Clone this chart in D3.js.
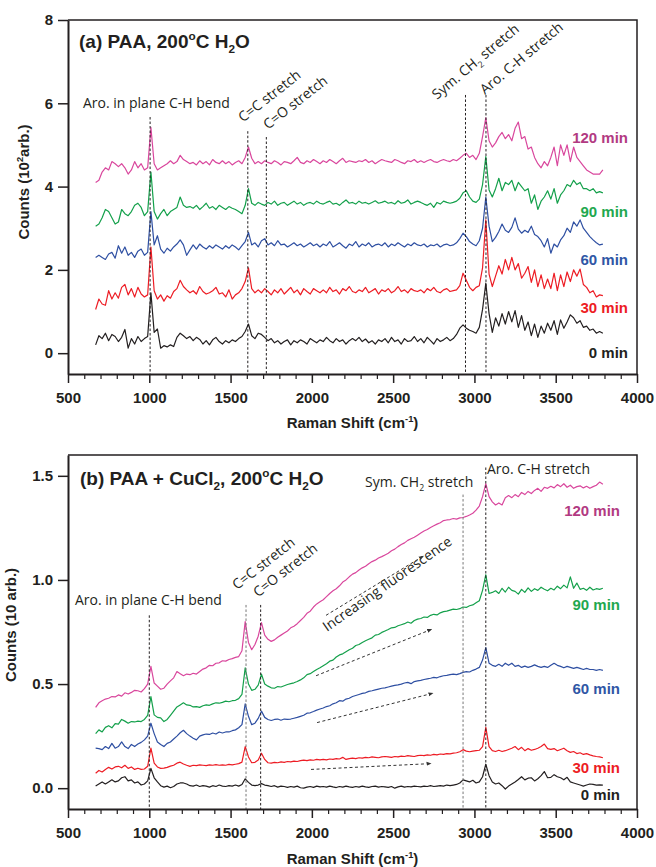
<!DOCTYPE html>
<html>
<head>
<meta charset="utf-8">
<script src="https://cdn.jsdelivr.net/npm/d3@7"></script>
<style>
  body { margin: 0; background: #fff; }
  svg { display: block; }
  .axis text { font-family: "Liberation Sans", Arial, sans-serif; font-weight: bold; font-size: 15px; fill: #231f20; }
  .axis path, .axis line { stroke: #231f20; }
  .note { font-family: "Open Sans", sans-serif; fill: #231f20; }
  .bold { font-family: "Liberation Sans", Arial, sans-serif; font-weight: bold; }
</style>
</head>
<body>
<svg id="fig" width="656" height="867"></svg>
<script>
// Raman shift sampling grid (cm-1), shared by every spectrum
var shift = d3.range(670, 3791, 20);

var timeLabels = ["0 min", "30 min", "60 min", "90 min", "120 min"];
var lineColors = ["#231f20", "#ed1c24", "#2e4fa2", "#14a04b", "#d9479d"];
var labelColors = ["#231f20", "#ed1c24", "#2f56a5", "#1fa84f", "#b23a82"];

// (a) PAA, counts in 10^2 arb. -- one row = 10 points = 200 cm-1
var paa0 = [
  0.20,0.42,0.35,0.48,0.30,0.45,0.40,0.28,0.38,0.57,
  0.12,0.35,0.22,0.40,0.28,0.35,0.40,1.45,0.50,0.58,
  0.12,0.18,0.15,0.20,0.16,0.38,0.48,0.42,0.35,0.40,
  0.30,0.38,0.33,0.22,0.30,0.20,0.32,0.38,0.28,0.22,
  0.30,0.25,0.32,0.28,0.35,0.40,0.52,0.70,0.42,0.35,
  0.48,0.45,0.38,0.30,0.35,0.25,0.30,0.22,0.28,0.32,
  0.20,0.30,0.25,0.32,0.28,0.22,0.35,0.30,0.25,0.32,
  0.28,0.38,0.30,0.25,0.35,0.28,0.32,0.22,0.30,0.35,
  0.30,0.38,0.28,0.34,0.25,0.30,0.22,0.32,0.28,0.35,
  0.25,0.38,0.28,0.32,0.22,0.35,0.28,0.30,0.40,0.28,
  0.35,0.25,0.38,0.30,0.22,0.35,0.28,0.32,0.38,0.30,
  0.35,0.45,0.60,0.68,0.60,0.55,0.52,0.48,0.62,1.05,
  1.68,0.95,0.50,0.85,0.65,0.95,0.70,1.00,0.75,1.02,
  0.62,0.90,0.55,0.75,0.42,0.70,0.38,0.65,0.48,0.72,
  0.55,0.78,0.45,0.80,0.60,0.75,0.92,0.85,0.72,0.78,
  0.62,0.65,0.55,0.58,0.48,0.52,0.48
];
var paa30 = [
  1.05,1.30,1.18,1.15,1.50,1.30,1.45,1.32,1.58,1.65,
  1.40,1.55,1.35,1.58,1.42,1.35,1.40,2.55,1.50,1.30,
  1.40,1.25,1.38,1.32,1.48,1.55,1.75,1.60,1.52,1.45,
  1.50,1.42,1.60,1.48,1.42,1.45,1.50,1.58,1.42,1.45,
  1.35,1.52,1.30,1.40,1.45,1.55,1.72,2.05,1.55,1.45,
  1.52,1.45,1.55,1.48,1.40,1.52,1.45,1.55,1.42,1.50,
  1.58,1.45,1.52,1.40,1.55,1.48,1.42,1.55,1.50,1.45,
  1.52,1.45,1.58,1.48,1.52,1.42,1.55,1.50,1.60,1.48,
  1.45,1.52,1.48,1.58,1.45,1.50,1.55,1.42,1.52,1.48,
  1.55,1.45,1.50,1.60,1.48,1.52,1.45,1.55,1.50,1.48,
  1.52,1.45,1.55,1.50,1.58,1.48,1.45,1.52,1.55,1.48,
  1.50,1.52,1.62,1.92,1.75,1.58,1.50,1.58,1.62,2.05,
  3.20,1.90,1.60,1.85,2.10,1.90,2.25,2.00,2.30,2.00,
  2.15,1.80,1.92,2.08,1.70,2.00,1.60,1.88,1.55,1.78,
  1.55,1.92,1.50,1.88,1.60,1.95,1.72,2.00,1.85,2.02,
  1.65,1.58,1.45,1.50,1.35,1.40,1.38
];
var paa60 = [
  2.30,2.35,2.30,2.25,2.38,2.42,2.28,2.58,2.40,2.55,
  2.35,2.42,2.30,2.45,2.50,2.35,2.42,3.40,2.60,2.82,
  2.50,2.40,2.52,2.45,2.55,2.62,2.72,2.60,2.35,2.48,
  2.60,2.50,2.62,2.55,2.50,2.58,2.52,2.60,2.55,2.50,
  2.58,2.52,2.60,2.55,2.48,2.58,2.68,2.90,2.60,2.65,
  2.55,2.70,2.75,2.60,2.65,2.58,2.70,2.60,2.62,2.55,
  2.60,2.65,2.58,2.62,2.55,2.60,2.65,2.58,2.62,2.55,
  2.62,2.58,2.68,2.55,2.60,2.65,2.58,2.52,2.62,2.58,
  2.68,2.55,2.62,2.58,2.65,2.55,2.60,2.62,2.58,2.65,
  2.55,2.62,2.58,2.65,2.60,2.55,2.62,2.58,2.65,2.60,
  2.58,2.62,2.55,2.60,2.58,2.62,2.55,2.60,2.62,2.58,
  2.60,2.65,2.75,2.88,2.80,2.68,2.62,2.58,2.70,3.00,
  3.75,3.05,2.68,2.78,2.92,3.10,2.95,2.90,3.02,3.25,
  2.98,2.88,2.95,2.90,3.05,2.85,2.80,2.70,2.55,2.75,
  2.40,2.62,2.55,2.72,2.82,3.00,2.90,3.15,3.05,3.20,
  3.00,2.90,2.80,2.72,2.65,2.60,2.62
];
var paa90 = [
  3.05,3.10,3.25,3.45,3.40,3.25,3.10,3.15,3.45,3.35,
  3.30,3.40,3.55,3.60,3.50,3.30,3.40,4.35,3.40,3.22,
  3.35,3.45,3.30,3.40,3.45,3.50,3.75,3.55,3.50,3.52,
  3.48,3.55,3.45,3.52,3.60,3.48,3.52,3.45,3.55,3.50,
  3.45,3.52,3.48,3.45,3.40,3.35,3.55,3.95,3.60,3.55,
  3.62,3.58,3.55,3.62,3.58,3.65,3.55,3.60,3.62,3.55,
  3.60,3.65,3.58,3.62,3.55,3.60,3.62,3.58,3.65,3.60,
  3.58,3.62,3.65,3.58,3.60,3.55,3.62,3.68,3.60,3.62,
  3.58,3.65,3.60,3.62,3.58,3.62,3.66,3.60,3.62,3.65,
  3.60,3.62,3.58,3.66,3.60,3.62,3.68,3.58,3.62,3.65,
  3.62,3.58,3.55,3.60,3.50,3.62,3.58,3.65,3.62,3.60,
  3.62,3.65,3.72,3.85,3.90,3.75,3.65,3.62,3.70,4.05,
  4.72,3.92,3.75,3.95,4.20,3.90,4.10,4.05,4.15,3.90,
  4.10,4.00,3.90,3.95,3.60,3.80,3.45,3.65,3.75,3.90,
  3.70,3.95,3.60,3.80,3.90,4.05,4.00,4.15,4.05,4.10,
  3.95,3.95,3.90,3.95,3.85,3.88,3.85
];
var paa120 = [
  4.10,4.15,4.35,4.45,4.40,4.60,4.55,4.48,4.55,4.45,
  4.30,4.40,4.60,4.45,4.55,4.40,4.45,5.42,4.55,4.40,
  4.45,4.50,4.55,4.62,4.55,4.60,4.75,4.65,4.60,4.55,
  4.58,4.52,4.62,4.55,4.60,4.52,4.65,4.58,4.55,4.62,
  4.55,4.60,4.52,4.58,4.62,4.55,4.70,4.95,4.68,4.55,
  4.60,4.55,4.62,4.58,4.55,4.62,4.58,4.52,4.60,4.58,
  4.55,4.62,4.70,4.58,4.55,4.62,4.58,4.65,4.60,4.55,
  4.62,4.58,4.65,4.60,4.55,4.62,4.68,4.58,4.62,4.60,
  4.58,4.62,4.60,4.65,4.58,4.62,4.55,4.60,4.65,4.62,
  4.60,4.58,4.65,4.62,4.58,4.55,4.62,4.60,4.65,4.58,
  4.62,4.58,4.62,4.65,4.60,4.58,4.62,4.65,4.62,4.60,
  4.65,4.62,4.68,4.75,4.80,4.70,4.75,4.65,4.80,5.20,
  5.65,5.10,4.95,5.05,5.20,5.30,5.15,5.25,5.10,5.40,
  5.55,5.15,5.20,4.90,4.95,4.70,4.55,4.45,4.60,4.50,
  4.70,4.95,4.50,5.00,4.75,5.00,4.60,4.95,4.70,4.60,
  4.50,4.40,4.35,4.30,4.30,4.30,4.40
];

// (b) PAA + CuCl2, counts in 10 arb.
var cu0 = [
  0.010,0.020,0.030,0.020,0.030,0.040,0.030,0.035,0.050,0.055,
  0.035,0.040,0.025,0.030,0.015,0.020,0.035,0.095,0.050,0.030,
  0.012,0.005,0.010,0.002,0.008,0.020,0.025,0.025,0.020,0.012,
  0.010,0.015,0.008,0.012,0.010,0.005,0.012,0.008,0.015,0.010,
  0.008,0.012,0.010,0.015,0.010,0.018,0.045,0.028,0.015,0.012,
  0.015,0.022,0.015,0.012,0.008,0.012,0.005,0.010,0.008,0.004,
  0.008,0.005,0.010,0.002,0.000,0.005,0.008,0.004,0.010,0.006,
  0.008,0.005,0.010,0.006,0.003,0.008,0.005,0.010,0.006,0.004,
  0.008,0.005,0.010,0.006,0.004,0.008,0.010,0.005,0.008,0.006,
  0.004,0.008,0.000,0.006,0.010,0.005,0.008,0.006,0.010,0.008,
  0.006,0.010,0.008,0.012,0.008,0.010,0.012,0.010,0.015,0.012,
  0.015,0.018,0.025,0.040,0.035,0.030,0.038,0.025,0.030,0.055,
  0.115,0.060,0.030,0.020,0.025,0.012,-0.004,0.010,0.020,0.030,
  0.042,0.055,0.040,0.048,0.050,0.035,0.045,0.060,0.080,0.050,
  0.052,0.065,0.055,0.050,0.040,0.052,0.030,0.025,0.020,0.015,
  0.010,0.015,0.020,0.018,0.015,0.016,0.015
];
var cu30 = [
  0.072,0.085,0.078,0.090,0.100,0.092,0.102,0.105,0.098,0.110,
  0.095,0.102,0.090,0.096,0.090,0.092,0.105,0.192,0.120,0.102,
  0.095,0.096,0.100,0.106,0.110,0.120,0.125,0.116,0.110,0.105,
  0.110,0.108,0.112,0.110,0.108,0.112,0.110,0.113,0.110,0.112,
  0.110,0.114,0.112,0.115,0.118,0.125,0.200,0.150,0.122,0.124,
  0.135,0.168,0.138,0.122,0.120,0.124,0.122,0.126,0.124,0.128,
  0.126,0.130,0.128,0.132,0.135,0.132,0.136,0.134,0.138,0.136,
  0.138,0.136,0.140,0.138,0.142,0.140,0.148,0.138,0.142,0.144,
  0.142,0.146,0.144,0.148,0.146,0.150,0.148,0.146,0.150,0.152,
  0.150,0.148,0.152,0.150,0.154,0.152,0.156,0.154,0.152,0.156,
  0.158,0.156,0.160,0.158,0.162,0.160,0.164,0.162,0.166,0.165,
  0.168,0.170,0.175,0.185,0.178,0.175,0.178,0.180,0.182,0.200,
  0.292,0.200,0.180,0.176,0.182,0.176,0.180,0.186,0.192,0.200,
  0.185,0.196,0.180,0.190,0.182,0.186,0.192,0.200,0.212,0.190,
  0.186,0.190,0.180,0.186,0.192,0.180,0.172,0.176,0.166,0.170,
  0.162,0.166,0.160,0.155,0.152,0.150,0.146
];
var cu60 = [
  0.192,0.190,0.185,0.200,0.190,0.215,0.192,0.200,0.222,0.200,
  0.190,0.210,0.200,0.212,0.220,0.232,0.250,0.312,0.262,0.222,
  0.210,0.200,0.215,0.222,0.236,0.250,0.266,0.278,0.262,0.250,
  0.240,0.232,0.250,0.256,0.260,0.258,0.265,0.260,0.270,0.265,
  0.270,0.270,0.276,0.280,0.290,0.305,0.405,0.345,0.305,0.312,
  0.335,0.370,0.340,0.330,0.325,0.330,0.332,0.326,0.332,0.330,
  0.332,0.336,0.340,0.345,0.350,0.360,0.362,0.368,0.375,0.380,
  0.385,0.392,0.396,0.405,0.410,0.420,0.418,0.428,0.432,0.440,
  0.445,0.450,0.455,0.458,0.465,0.468,0.472,0.476,0.480,0.482,
  0.486,0.490,0.494,0.496,0.500,0.505,0.508,0.502,0.512,0.515,
  0.518,0.522,0.525,0.528,0.532,0.530,0.536,0.540,0.542,0.545,
  0.548,0.545,0.550,0.556,0.560,0.558,0.566,0.572,0.580,0.615,
  0.675,0.600,0.590,0.585,0.595,0.585,0.600,0.590,0.600,0.585,
  0.590,0.580,0.586,0.580,0.585,0.592,0.585,0.580,0.585,0.580,
  0.590,0.600,0.590,0.585,0.578,0.585,0.580,0.575,0.580,0.575,
  0.570,0.575,0.570,0.570,0.566,0.570,0.566
];
var cu90 = [
  0.262,0.280,0.270,0.292,0.300,0.290,0.310,0.308,0.330,0.322,
  0.312,0.320,0.318,0.322,0.320,0.330,0.350,0.440,0.352,0.340,
  0.338,0.320,0.330,0.350,0.370,0.390,0.400,0.410,0.400,0.398,
  0.390,0.392,0.388,0.396,0.400,0.398,0.405,0.410,0.408,0.412,
  0.418,0.415,0.420,0.422,0.430,0.450,0.578,0.500,0.470,0.475,
  0.495,0.548,0.500,0.490,0.482,0.480,0.488,0.486,0.492,0.498,
  0.502,0.506,0.512,0.520,0.530,0.545,0.550,0.560,0.570,0.578,
  0.588,0.598,0.610,0.615,0.630,0.640,0.645,0.655,0.665,0.672,
  0.685,0.690,0.700,0.708,0.715,0.722,0.735,0.738,0.748,0.755,
  0.762,0.770,0.772,0.780,0.785,0.790,0.798,0.792,0.805,0.812,
  0.815,0.822,0.820,0.830,0.835,0.832,0.842,0.848,0.850,0.855,
  0.860,0.858,0.862,0.870,0.868,0.876,0.880,0.890,0.900,0.950,
  1.025,0.935,0.940,0.948,0.935,0.960,0.942,0.965,0.950,0.945,
  0.932,0.955,0.940,0.962,0.945,0.958,0.950,0.965,0.955,0.948,
  0.960,0.952,0.970,0.958,0.975,0.962,1.015,0.960,0.985,0.955,
  0.960,0.950,0.965,0.952,0.958,0.955,0.960
];
var cu120 = [
  0.388,0.410,0.420,0.428,0.432,0.440,0.438,0.448,0.442,0.458,
  0.452,0.460,0.470,0.468,0.462,0.478,0.500,0.585,0.505,0.490,
  0.475,0.480,0.500,0.515,0.530,0.560,0.550,0.540,0.548,0.545,
  0.552,0.548,0.560,0.572,0.578,0.590,0.588,0.600,0.602,0.612,
  0.610,0.618,0.622,0.628,0.632,0.660,0.800,0.700,0.665,0.690,
  0.730,0.795,0.735,0.715,0.705,0.712,0.725,0.735,0.745,0.755,
  0.770,0.778,0.790,0.805,0.820,0.840,0.850,0.870,0.885,0.895,
  0.905,0.920,0.935,0.948,0.958,0.972,0.990,1.000,1.015,1.028,
  1.035,1.048,1.058,1.066,1.078,1.088,1.095,1.105,1.112,1.120,
  1.128,1.140,1.148,1.160,1.170,1.178,1.190,1.198,1.205,1.215,
  1.225,1.235,1.242,1.252,1.260,1.268,1.275,1.285,1.288,1.290,
  1.295,1.292,1.298,1.300,1.305,1.312,1.320,1.335,1.355,1.400,
  1.462,1.400,1.375,1.360,1.370,1.360,1.395,1.405,1.395,1.410,
  1.400,1.420,1.410,1.425,1.415,1.430,1.440,1.425,1.445,1.440,
  1.450,1.442,1.458,1.448,1.462,1.445,1.455,1.440,1.448,1.452,
  1.442,1.450,1.440,1.448,1.455,1.470,1.460
];

// band assignments (cm-1)
var paaBands = [1005, 1606, 1720, 2945, 3071];
var cuBands = [1000, 1595, 1685, 2930, 3070];

var svg = d3.select("#fig");

var x = d3.scaleLinear().domain([500, 4000]).range([68, 637]);

// text with sub/superscript parts: [string, "sup"|"sub"|""]
function richText(g, parts, size) {
  var t = g.append("text").style("font-size", size + "px");
  var shiftNow = 0;
  parts.forEach(function(p) {
    var target = p[1] === "sup" ? -0.42 * size : (p[1] === "sub" ? 0.28 * size : 0);
    t.append("tspan")
      .attr("dy", target - shiftNow)
      .style("font-size", p[1] ? (0.62 * size) + "px" : null)
      .text(p[0]);
    shiftNow = target;
  });
  return t;
}

function drawPanel(cfg) {
  var y = d3.scaleLinear().domain(cfg.yDomain).range([cfg.bottom, cfg.top]);
  var g = svg.append("g");

  // frame (top, right)
  g.append("path")
    .attr("d", "M" + x.range()[0] + "," + cfg.top + "H" + x.range()[1] + "V" + cfg.bottom)
    .attr("fill", "none").attr("stroke", "#231f20").attr("stroke-width", 1.5);

  var line = d3.line()
    .x(function(d) { return x(d[0]); })
    .y(function(d) { return y(d[1]); });

  cfg.series.forEach(function(vals, i) {
    if (vals.length !== shift.length) console.warn("length", i, vals.length);
    var pts = shift.map(function(s, k) { return [s, vals[k]]; });
    g.append("path")
      .attr("d", line(pts))
      .attr("fill", "none")
      .attr("stroke", lineColors[i])
      .attr("stroke-width", 1.2)
      .attr("stroke-linejoin", "round");
  });

  // band guide lines
  cfg.bands.forEach(function(b, i) {
    g.append("line")
      .attr("x1", x(b)).attr("x2", x(b))
      .attr("y1", y(cfg.bandTops[i])).attr("y2", cfg.bottom)
      .attr("stroke", cfg.bandColors[i]).attr("stroke-width", 1)
      .attr("stroke-dasharray", "2.5,2");
  });

  // axes
  var yAxis = d3.axisLeft(y).tickValues(cfg.yTicks).tickFormat(cfg.yFmt)
    .tickSize(10).tickSizeOuter(0).tickPadding(5);
  g.append("g").attr("class", "axis")
    .attr("transform", "translate(" + x.range()[0] + ",0)")
    .call(yAxis)
    .call(function(a) { a.select(".domain").attr("stroke-width", 2); a.selectAll(".tick line").attr("stroke-width", 1.5); });

  var xMinor = d3.axisBottom(x).tickValues(d3.range(600, 4000, 100).filter(function(v) { return v % 500; }))
    .tickSize(5).tickSizeOuter(0).tickFormat("");
  g.append("g").attr("class", "axis")
    .attr("transform", "translate(0," + cfg.bottom + ")")
    .call(xMinor)
    .call(function(a) { a.select(".domain").remove(); a.selectAll(".tick line").attr("stroke-width", 1.2); });

  var xAxis = d3.axisBottom(x).tickValues(d3.range(500, 4001, 500)).tickFormat(d3.format("d"))
    .tickSize(9).tickSizeOuter(0).tickPadding(9);
  g.append("g").attr("class", "axis")
    .attr("transform", "translate(0," + cfg.bottom + ")")
    .call(xAxis)
    .call(function(a) { a.select(".domain").attr("stroke-width", 2.2).attr("stroke", "#444"); a.selectAll(".tick line").attr("stroke-width", 1.5); });

  // axis titles
  var xt = richText(g.append("g").attr("transform", "translate(" + ((x.range()[0] + x.range()[1]) / 2) + "," + cfg.xTitleY + ")"),
    [["Raman Shift (cm", ""], ["-1", "sup"], [")", ""]], 15);
  xt.attr("class", "bold").attr("text-anchor", "middle").attr("fill", "#231f20");

  var yt = richText(g.append("g").attr("transform", "translate(" + cfg.yTitleX + "," + cfg.yTitleY + ") rotate(-90)"),
    cfg.yTitle, 15);
  yt.attr("class", "bold").attr("text-anchor", "middle").attr("fill", "#231f20");

  // panel title
  richText(g.append("g").attr("transform", "translate(" + cfg.titlePos[0] + "," + cfg.titlePos[1] + ")"), cfg.title, 19)
    .attr("class", "bold").attr("fill", "#231f20");

  // band notes
  cfg.notes.forEach(function(n) {
    var ng = g.append("g").attr("transform", "translate(" + x(n.at[0]) + "," + y(n.at[1]) + ") rotate(" + n.angle + ")");
    richText(ng, n.parts, 14).attr("class", "note");
  });

  // series labels
  timeLabels.forEach(function(lab, i) {
    g.append("text").attr("class", "bold")
      .attr("x", cfg.labelX).attr("y", y(cfg.labelY[i]))
      .attr("text-anchor", "end")
      .style("font-size", "15px")
      .attr("fill", labelColors[i])
      .text(lab);
  });

  return { g: g, y: y };
}

var top = drawPanel({
  top: 20, bottom: 374, yDomain: [-0.5, 8], yTicks: [0, 2, 4, 6, 8], yFmt: d3.format("d"),
  series: [paa0, paa30, paa60, paa90, paa120],
  bands: paaBands, bandTops: [5.67, 5.33, 5.19, 6.2, 6.2],
  bandColors: ["#231f20", "#231f20", "#231f20", "#231f20", "#231f20"],
  xTitleY: 428, yTitleX: 29, yTitleY: 182,
  yTitle: [["Counts (10", ""], ["2", "sup"], ["arb.)", ""]],
  titlePos: [79, 48],
  title: [["(a) PAA, 200", ""], ["o", "sup"], ["C H", ""], ["2", "sub"], ["O", ""]],
  notes: [
    { at: [592, 5.89], angle: 0, parts: [["Aro. in plane C-H bend", ""]] },
    { at: [1576, 5.53], angle: -38, parts: [["C=C stretch", ""]] },
    { at: [1730, 5.36], angle: -38, parts: [["C=O stretch", ""]] },
    { at: [2770, 6.08], angle: -40, parts: [["Sym. CH", ""], ["2", "sub"], [" stretch", ""]] },
    { at: [3065, 6.2], angle: -40, parts: [["Aro. C-H stretch", ""]] }
  ],
  labelX: 628, labelY: [-0.11, 0.97, 2.12, 3.27, 5.05]
});

var bot = drawPanel({
  top: 455, bottom: 809, yDomain: [-0.1, 1.6], yTicks: [0, 0.5, 1, 1.5], yFmt: d3.format(".1f"),
  series: [cu0, cu30, cu60, cu90, cu120],
  bands: cuBands, bandTops: [0.83, 0.88, 0.88, 1.41, 1.54],
  bandColors: ["#231f20", "#777", "#231f20", "#777", "#231f20"],
  xTitleY: 864, yTitleX: 16, yTitleY: 625,
  yTitle: [["Counts (10 arb.)", ""]],
  titlePos: [80, 485],
  title: [["(b) PAA + CuCl", ""], ["2", "sub"], [", 200", ""], ["o", "sup"], ["C H", ""], ["2", "sub"], ["O", ""]],
  notes: [
    { at: [543, 0.88], angle: 0, parts: [["Aro. in plane C-H bend", ""]] },
    { at: [1540, 0.95], angle: -38, parts: [["C=C stretch", ""]] },
    { at: [1669, 0.915], angle: -38, parts: [["C=O stretch", ""]] },
    { at: [2327, 1.447], angle: 0, parts: [["Sym. CH", ""], ["2", "sub"], [" stretch", ""]] },
    { at: [3077, 1.51], angle: 0, parts: [["Aro. C-H stretch", ""]] },
    { at: [2093, 0.75], angle: -35, parts: [["Increasing fluorescence", ""]] }
  ],
  labelX: 620, labelY: [-0.055, 0.075, 0.45, 0.855, 1.305]
});

// fluorescence trend arrows in panel (b)
var arrows = [
  [[1995, 0.09], [2733, 0.118]],
  [[2032, 0.315], [2745, 0.456]],
  [[2026, 0.54], [2737, 0.763]],
  [[2087, 0.83], [2686, 1.115]]
];
svg.append("defs").append("marker")
  .attr("id", "head").attr("viewBox", "0 0 10 10")
  .attr("refX", 9).attr("refY", 5)
  .attr("markerWidth", 5).attr("markerHeight", 5)
  .attr("orient", "auto")
  .append("path").attr("d", "M0,1L10,5L0,9Z").attr("fill", "#333");
bot.g.selectAll(".arrow").data(arrows).enter().append("line")
  .attr("class", "arrow")
  .attr("x1", function(d) { return x(d[0][0]); })
  .attr("y1", function(d) { return bot.y(d[0][1]); })
  .attr("x2", function(d) { return x(d[1][0]); })
  .attr("y2", function(d) { return bot.y(d[1][1]); })
  .attr("stroke", "#333").attr("stroke-width", 1)
  .attr("stroke-dasharray", "3,2.5")
  .attr("marker-end", "url(#head)");
</script>
</body>
</html>
